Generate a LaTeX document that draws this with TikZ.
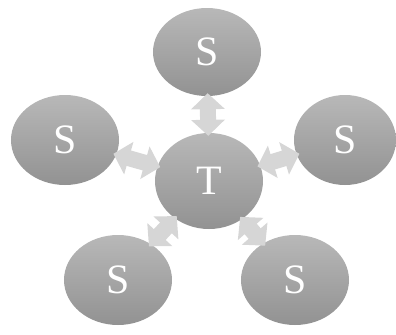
\documentclass[tikz,border=0pt]{standalone}
\usepackage{fontspec}
\setmainfont{Liberation Serif}
\usepackage{tikz}
\usetikzlibrary{shapes.geometric, arrows.meta}
\definecolor{balltop}{RGB}{184,184,184}
\definecolor{ballbot}{RGB}{146,146,146}
\definecolor{linkgray}{RGB}{214,214,214}
\tikzset{
  ball/.style={ellipse, top color=balltop, bottom color=ballbot, draw=none,
    minimum width=108bp, minimum height=90bp, inner sep=0pt,
    text=white, font=\fontsize{42}{44}\selectfont},
  link/.style={draw=linkgray, line width=16bp,
    {Triangle[width=33bp,length=16bp]}-{Triangle[width=33bp,length=16bp]},
    shorten <=-3bp, shorten >=-3bp}
}

\begin{document}
\begin{tikzpicture}[x=1bp, y=-1bp]
  \useasboundingbox (0,0) rectangle (396,335);

  \node[ball, minimum height=96bp] (hub) at (209,181) {T};
  \node[ball, minimum height=88bp] (top) at (207,52) {S};
  \node[ball] (left) at (65,140) {S};
  \node[ball, minimum width=102bp] (right) at (345,140) {S};
  \node[ball] (botleft) at (118,280) {S};
  \node[ball] (botright) at (295,280) {S};

  % Connections
  \draw[link] (top) -- (hub);
  \draw[link] (left) -- (hub);
  \draw[link] (right) -- (hub);
  \draw[link] (botleft) -- (hub);
  \draw[link] (botright) -- (hub);
\end{tikzpicture}
\end{document}
